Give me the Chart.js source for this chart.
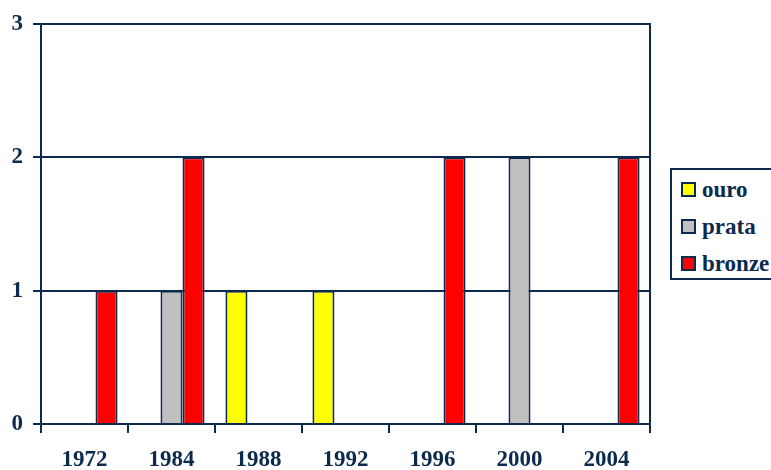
<!DOCTYPE html>
<html>
<head>
<meta charset="utf-8">
<script src="https://cdn.jsdelivr.net/npm/chart.js@4/dist/chart.umd.min.js"></script>
<style>
  html, body { margin: 0; padding: 0; background: #ffffff; }
  #wrap { position: relative; width: 771px; height: 470px; overflow: hidden; }
  #legend {
    position: absolute; left: 670px; top: 168px; width: 130px; height: 112px;
    border: 2px solid #0b2a4e; box-sizing: border-box; background: #fff;
    font: bold 23px "Liberation Serif", "Times New Roman", serif; color: #0b2a4e;
  }
  .item { position: absolute; left: 9px; height: 24px; line-height: 24px; white-space: nowrap; }
  .sw { display: inline-block; width: 11px; height: 11px; border: 2px solid #0b2a4e; vertical-align: middle; margin-right: 6px; position: relative; top: -2px; }
</style>
</head>
<body>
<div id="wrap">
  <canvas id="c" width="771" height="470"></canvas>
  <div id="legend"></div>
</div>
<script>
// Olympic medals by year
const years = ['1972', '1984', '1988', '1992', '1996', '2000', '2004'];
const ouro   = [0, 0, 1, 1, 0, 0, 0];
const prata  = [0, 1, 0, 0, 0, 2, 0];
const bronze = [1, 2, 0, 0, 2, 0, 2];
const seriesNames = ['ouro', 'prata', 'bronze'];
const seriesColors = ['#ffff00', '#c0c0c0', '#ff0000'];

const NAVY = '#0b2a4e';
const FONT = '"Liberation Serif", "Times New Roman", serif';

// Right-hand edge of the plot frame
const frameRight = {
  id: 'frameRight',
  afterDraw(chart) {
    const a = chart.chartArea, ctx = chart.ctx;
    ctx.save();
    ctx.strokeStyle = NAVY;
    ctx.lineWidth = 2;
    ctx.beginPath();
    ctx.moveTo(a.right, a.top - 1);
    ctx.lineTo(a.right, a.bottom + 1);
    ctx.stroke();
    ctx.restore();
  }
};

const values = [ouro, prata, bronze];
new Chart(document.getElementById('c'), {
  type: 'bar',
  data: {
    labels: years,
    datasets: seriesNames.map((name, i) => ({
      label: name,
      data: values[i],
      backgroundColor: seriesColors[i],
      borderColor: NAVY,
      borderWidth: 2,
      borderSkipped: 'start',
      categoryPercentage: 0.76,
      barPercentage: 1.0
    }))
  },
  options: {
    responsive: false,
    animation: false,
    layout: { padding: { top: 24, right: 121, left: 0, bottom: 0 } },
    plugins: { legend: { display: false }, tooltip: { enabled: false } },
    scales: {
      x: {
        grid: { drawOnChartArea: false, drawTicks: true, tickLength: 9, color: NAVY, lineWidth: 2, offset: true },
        border: { display: true, color: NAVY, width: 2 },
        ticks: { color: NAVY, font: { family: FONT, size: 23, weight: 'bold' }, padding: 13, maxRotation: 0 },
        afterFit(s) { s.height = 46; }
      },
      y: {
        min: 0, max: 3,
        grid: { color: NAVY, lineWidth: 2, drawTicks: true, tickLength: 8 },
        border: { display: true, color: NAVY, width: 2 },
        ticks: { stepSize: 1, color: NAVY, font: { family: FONT, size: 23, weight: 'bold' }, padding: 10 },
        afterFit(s) { s.width = 41; }
      }
    }
  },
  plugins: [frameRight]
});

// Boxed legend on the right
const legend = document.getElementById('legend');
seriesNames.forEach((name, i) => {
  const row = document.createElement('div');
  row.className = 'item';
  row.style.top = (8 + i * 37) + 'px';
  const sw = document.createElement('span');
  sw.className = 'sw';
  sw.style.background = seriesColors[i];
  row.appendChild(sw);
  row.appendChild(document.createTextNode(name));
  legend.appendChild(row);
});
</script>
</body>
</html>
